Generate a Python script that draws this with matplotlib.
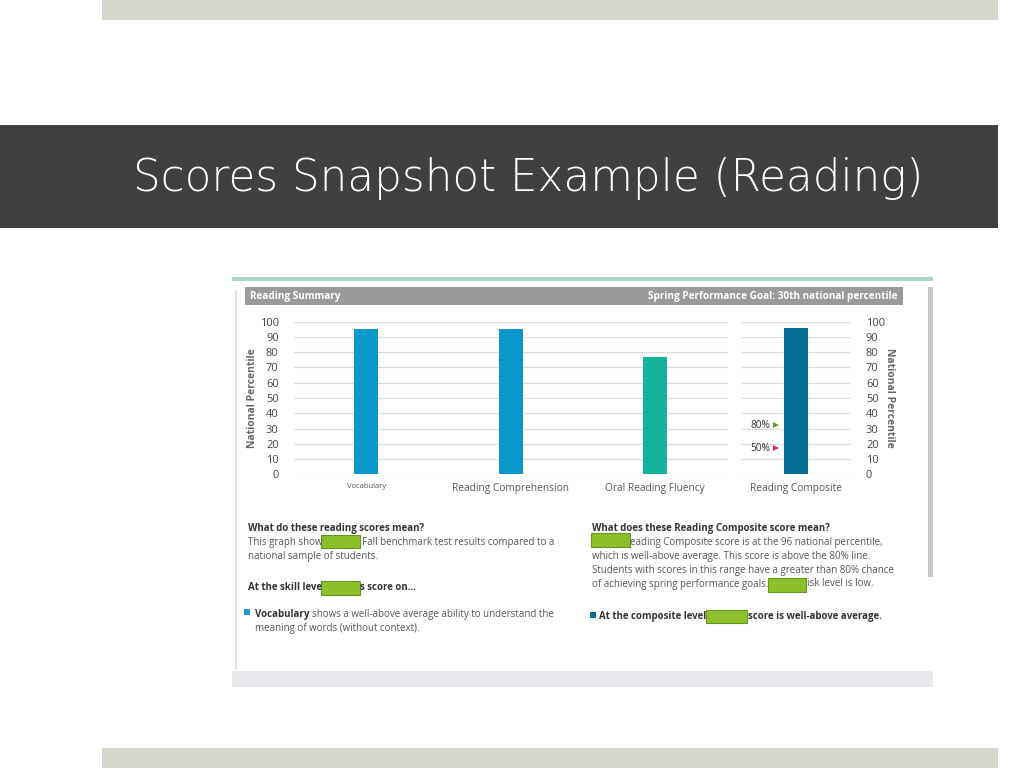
import matplotlib
matplotlib.use("Agg")
import matplotlib.pyplot as plt
from matplotlib.patches import Rectangle

W, H = 1024, 768

subjects = ["Vocabulary", "Reading Comprehension", "Oral Reading Fluency"]
subject_scores = [95, 95, 77]
subject_colors = ["#0a97c9", "#0a97c9", "#14b49c"]
composite_label = "Reading Composite"
composite_score = 96
composite_color = "#046e93"
marker_labels = ["80%", "50%"]
marker_values = [32, 17]
marker_colors = ["#5f9e2a", "#e8266e"]
yticks = list(range(0, 101, 10))

FONT = "Open Sans"
DARK = "#333333"


def frac(x0, y0, x1, y1):
    # pixel box (top-left origin) -> figure fraction rect
    return [x0 / W, 1 - y1 / H, (x1 - x0) / W, (y1 - y0) / H]


fig = plt.figure(figsize=(W / 100, H / 100), dpi=100)

# background layer in pixel coordinates
bg = fig.add_axes([0, 0, 1, 1])
bg.set_xlim(0, W)
bg.set_ylim(H, 0)
bg.axis("off")


def rect(x0, y0, x1, y1, color, ec="none", lw=0):
    bg.add_patch(Rectangle((x0, y0), x1 - x0, y1 - y0, facecolor=color, edgecolor=ec, linewidth=lw))


def txt(x, y, s, size=7.0, weight="normal", color="#555555", ha="left"):
    return bg.text(x, y, s, fontsize=size, fontweight=weight, color=color, ha=ha, va="center", family=FONT)


def after(prev, s, size=7.0, weight="normal", color="#555555", gap=3):
    # continue a line right after another text
    return bg.annotate(s, xy=(1, 0.5), xycoords=prev, xytext=(gap, 0), textcoords="offset pixels",
                       fontsize=size, fontweight=weight, color=color, ha="left", va="center", family=FONT)


def redact(x0, y0, x1, y1):
    rect(x0, y0, x1, y1, "#8dbf2a", ec="#6a9420", lw=0.8)


# slide frame
rect(102, 0, 998, 20, "#d5d7cd")
rect(102, 748, 998, 768, "#d5d7cd")
rect(0, 125, 998, 228, "#404040")
bg.text(133, 179, "Scores Snapshot Example (Reading)", fontsize=31.4, color="white",
        ha="left", va="center", family="DejaVu Sans", fontweight="light")

# screenshot frame
rect(232, 277, 933, 281, "#a6d6cb")
rect(232, 671, 933, 687, "#e7e9ec")
rect(235, 290, 237, 670, "#e2e2e2")
rect(928, 287, 933, 577, "#c6c6c6")
rect(245, 287, 903, 305, "#9a9a9a")
txt(250, 296, "Reading Summary", size=7.2, weight="bold", color="white")
txt(898, 296, "Spring Performance Goal: 30th national percentile", size=7.2, weight="bold",
    color="white", ha="right")

# left text block
txt(248, 529, "What do these reading scores mean?", weight="bold", color=DARK)
txt(248, 543, "This graph show")
redact(321, 535, 360, 548)
txt(362, 543, "Fall benchmark test results compared to a")
txt(248, 557, "national sample of students.")
txt(248, 588, "At the skill leve", weight="bold", color=DARK)
redact(321, 581, 360, 595)
txt(360, 588, "s score on...", weight="bold", color=DARK)
rect(244, 609, 250, 615, "#1a9ad0")
t = txt(255, 615, "Vocabulary", weight="bold", color=DARK)
after(t, "shows a well-above average ability to understand the")
txt(255, 629, "meaning of words (without context).")

# right text block
txt(592, 529, "What does these Reading Composite score mean?", weight="bold", color=DARK)
redact(591, 533, 630, 547)
txt(630, 542, "eading Composite score is at the 96 national percentile,")
txt(592, 556, "which is well-above average. This score is above the 80% line.")
txt(592, 570, "Students with scores in this range have a greater than 80% chance")
txt(592, 584, "of achieving spring performance goals.")
redact(768, 578, 806, 592)
txt(807, 584, "isk level is low.")
rect(590, 612, 596, 618, composite_color)
txt(599, 617, "At the composite level", weight="bold", color=DARK)
redact(706, 610, 747, 623)
txt(748, 617, "score is well-above average.", weight="bold", color=DARK)

# subject chart
ax = fig.add_axes(frac(294, 321.7, 727.5, 474.3))
ax.bar(range(len(subjects)), subject_scores, width=0.166, color=subject_colors, zorder=3)
ax.set_xlim(-0.5, len(subjects) - 0.5)
ax.set_ylim(0, 100)
ax.set_yticks(yticks)
ax.set_xticks(range(len(subjects)))
ax.set_xticklabels(subjects, family=FONT, color="#555555")
for lab, sz in zip(ax.get_xticklabels(), [5.5, 7.3, 7.3]):
    lab.set_fontsize(sz)
ax.tick_params(axis="y", length=0, pad=11, labelsize=8, labelcolor="#444444")
ax.tick_params(axis="x", length=0, pad=6)
ax.grid(axis="y", color="#dcdcdc", linewidth=0.9, zorder=0)
for s in ax.spines.values():
    s.set_visible(False)
ax.set_ylabel("National Percentile", family=FONT, fontsize=7.5, fontweight="bold",
              color="#666666", labelpad=1)
for lab in ax.get_yticklabels():
    lab.set_family(FONT)

# composite chart
ax2 = fig.add_axes(frac(740.7, 321.7, 850.7, 474.3))
ax2.bar([0], [composite_score], width=0.22, color=composite_color, zorder=3)
ax2.set_xlim(-0.5, 0.5)
ax2.set_ylim(0, 100)
ax2.set_yticks(yticks)
ax2.yaxis.tick_right()
ax2.yaxis.set_label_position("right")
ax2.set_xticks([0])
ax2.set_xticklabels([composite_label], family=FONT, fontsize=7.3, color="#555555")
ax2.tick_params(axis="y", length=0, pad=11, labelsize=8, labelcolor="#444444")
ax2.tick_params(axis="x", length=0, pad=6)
ax2.grid(axis="y", color="#dcdcdc", linewidth=0.9, zorder=0)
for s in ax2.spines.values():
    s.set_visible(False)
ax2.set_ylabel("National Percentile", family=FONT, fontsize=7.5, fontweight="bold",
               color="#666666", rotation=-90, labelpad=7)
for lab in ax2.get_yticklabels():
    lab.set_family(FONT)

for lab, val, col in zip(marker_labels, marker_values, marker_colors):
    ax2.text(-0.32, val, lab, fontsize=7.3, family=FONT, color=DARK,
             ha="center", va="center", zorder=4)
    ax2.plot([-0.18], [val], marker=">", markersize=5, color=col, zorder=4,
             markeredgewidth=0)

fig.savefig("out.png", dpi=100)
